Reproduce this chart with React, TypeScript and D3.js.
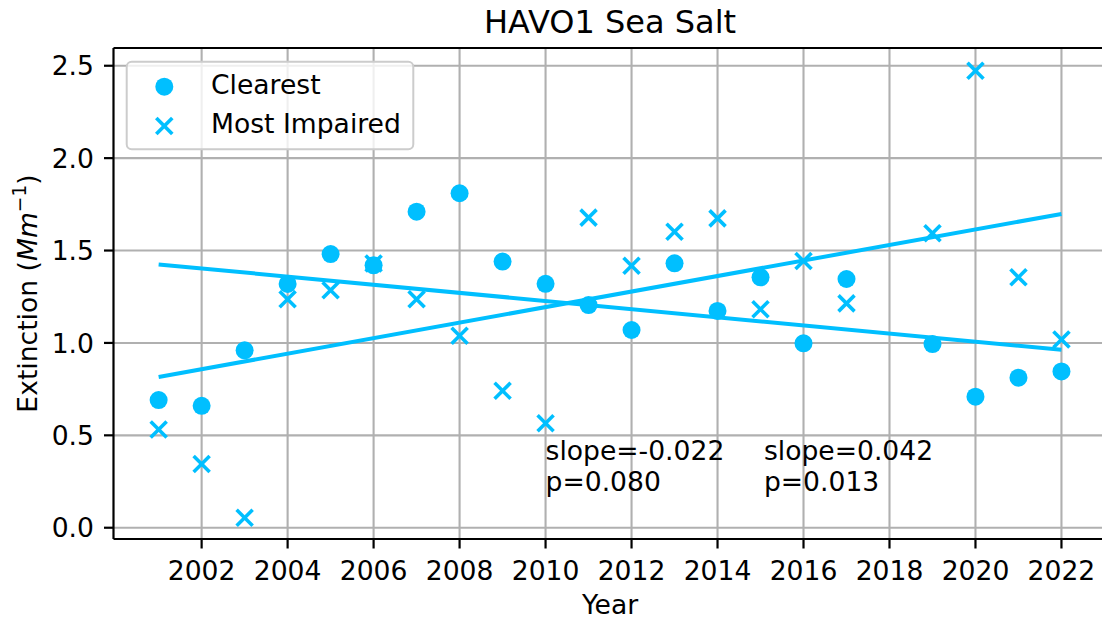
import React from 'react';
import * as d3 from 'd3';

const years = [2001, 2002, 2003, 2004, 2005, 2006, 2007, 2008, 2009, 2010, 2011, 2012, 2013, 2014, 2015, 2016, 2017, 2019, 2020, 2021, 2022];
const clearest = [0.691, 0.66, 0.96, 1.319, 1.481, 1.42, 1.71, 1.81, 1.44, 1.32, 1.205, 1.07, 1.431, 1.173, 1.355, 0.998, 1.346, 0.994, 0.709, 0.812, 0.846];
const mostImpaired = [0.532, 0.345, 0.054, 1.236, 1.285, 1.43, 1.236, 1.039, 0.741, 0.565, 1.678, 1.418, 1.602, 1.674, 1.182, 1.443, 1.214, 1.593, 2.473, 1.355, 1.019];
const seriesNames = ['Clearest', 'Most Impaired'];
const trendSlopes = [-0.022, 0.042];
const annotationLines = [
  ['slope=-0.022', 'p=0.080'],
  ['slope=0.042', 'p=0.013'],
];
const annotationX = [2010, 2015.08];
const annotationY = 0.2;
const xTicks = [2002, 2004, 2006, 2008, 2010, 2012, 2014, 2016, 2018, 2020, 2022];
const yTicks = [0, 0.5, 1.0, 1.5, 2.0, 2.5];

const COLOR = '#00bfff';
const FONT = 'DejaVu Sans';
const FS = 26.6;

export default function App() {
  const W = 1102;
  const H = 623;
  const left = 113.5, right = 1106.6, top = 48, bottom = 539;
  const x = d3.scaleLinear().domain([1999.95, 2023.05]).range([left, right]);
  const y = d3.scaleLinear().domain([-0.061, 2.596]).range([bottom, top]);

  const xMin = d3.min(years) as number;
  const xMax = d3.max(years) as number;
  const medX = d3.median(years) as number;
  const trends = [clearest, mostImpaired].map((vals, i) => {
    const slope = trendSlopes[i];
    const intercept = (d3.median(vals) as number) - slope * medX;
    return [
      [xMin, intercept + slope * xMin],
      [xMax, intercept + slope * xMax],
    ] as [number, number][];
  });
  const line = d3.line<[number, number]>().x(d => x(d[0])).y(d => y(d[1]));

  const xMark = (cx: number, cy: number, k: string, s = 8) => (
    <g key={k} stroke={COLOR} strokeWidth={3.6}>
      <line x1={cx - s} y1={cy - s} x2={cx + s} y2={cy + s} />
      <line x1={cx - s} y1={cy + s} x2={cx + s} y2={cy - s} />
    </g>
  );

  return (
    <svg width={W} height={H} style={{ position: 'absolute', left: 0, top: 0, background: '#fff' }} fontFamily={FONT}>
      <rect x={0} y={0} width={W} height={H} fill="#fff" />
      <defs>
        <clipPath id="plot">
          <rect x={left} y={top} width={right - left} height={bottom - top} />
        </clipPath>
      </defs>
      {/* grid */}
      <g stroke="#b0b0b0" strokeWidth={2.1}>
        {xTicks.map(t => (
          <line key={'gx' + t} x1={x(t)} x2={x(t)} y1={top} y2={bottom} />
        ))}
        {yTicks.map(t => (
          <line key={'gy' + t} x1={left} x2={right} y1={y(t)} y2={y(t)} />
        ))}
      </g>
      <g clipPath="url(#plot)">
        {years.map((yr, i) => (
          <circle key={'c' + i} cx={x(yr)} cy={y(clearest[i])} r={9} fill={COLOR} />
        ))}
        {years.map((yr, i) => xMark(x(yr), y(mostImpaired[i]), 'm' + i))}
        {trends.map((t, i) => (
          <path key={'t' + i} d={line(t) as string} fill="none" stroke={COLOR} strokeWidth={4} />
        ))}
      </g>
      {/* annotations */}
      {annotationLines.map((lines, i) => (
        <text key={'a' + i} x={x(annotationX[i])} y={y(annotationY)} fontSize={FS} fill="#000">
          {lines.map((l, j) => (
            <tspan key={j} x={x(annotationX[i])} dy={j === 0 ? -(lines.length - 1) * 31 : 31}>{l}</tspan>
          ))}
        </text>
      ))}
      {/* spines */}
      <g stroke="#000" strokeWidth={2.2} fill="none">
        <line x1={left} x2={left} y1={top} y2={bottom} />
        <line x1={left} x2={right} y1={top} y2={top} />
        <line x1={left} x2={right} y1={bottom} y2={bottom} />
        <line x1={right} x2={right} y1={top} y2={bottom} />
      </g>
      {/* ticks */}
      <g stroke="#000" strokeWidth={2.2}>
        {xTicks.map(t => (
          <line key={'tx' + t} x1={x(t)} x2={x(t)} y1={bottom} y2={bottom + 9.5} />
        ))}
        {yTicks.map(t => (
          <line key={'ty' + t} x1={left - 9.5} x2={left} y1={y(t)} y2={y(t)} />
        ))}
      </g>
      <g fontSize={FS} fill="#000">
        {xTicks.map(t => (
          <text key={'lx' + t} x={x(t)} y={580} textAnchor="middle">{String(t)}</text>
        ))}
        {yTicks.map(t => (
          <text key={'ly' + t} x={94} y={y(t)} dy="0.36em" textAnchor="end">{t.toFixed(1)}</text>
        ))}
      </g>
      {/* axis labels */}
      <text x={(left + right) / 2} y={614} textAnchor="middle" fontSize={FS}>Year</text>
      <text transform={`translate(36.5,${(top + bottom) / 2}) rotate(-90)`} textAnchor="middle" fontSize={FS}>
        Extinction (<tspan fontStyle="italic">Mm</tspan>
        <tspan fontSize={FS * 0.7} dy={-11}>−1</tspan>
        <tspan dy={11}>)</tspan>
      </text>
      {/* title */}
      <text x={(left + right) / 2} y={33} textAnchor="middle" fontSize={32}>HAVO1 Sea Salt</text>
      {/* legend */}
      <g>
        <rect x={126.7} y={61.7} width={286.6} height={87.6} rx={5} ry={5} fill="#fff" fillOpacity={0.8} stroke="#cccccc" strokeWidth={2} />
        <circle cx={164.3} cy={86.7} r={9} fill={COLOR} />
        {xMark(164.3, 126, 'legx')}
        <text x={211} y={94} fontSize={FS}>{seriesNames[0]}</text>
        <text x={211} y={133.3} fontSize={FS}>{seriesNames[1]}</text>
      </g>
    </svg>
  );
}
